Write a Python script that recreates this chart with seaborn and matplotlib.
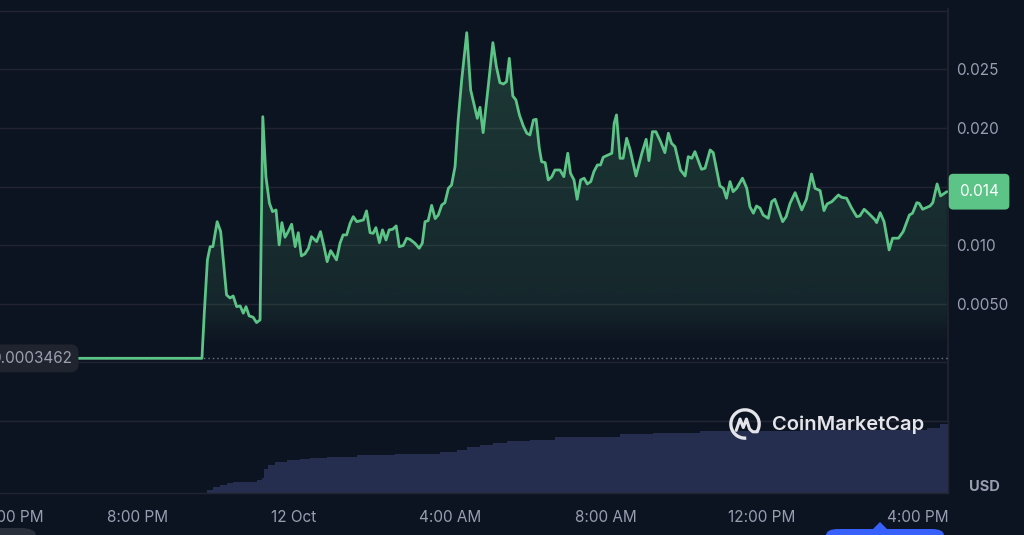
import matplotlib
matplotlib.use("Agg")
import matplotlib.dates as mdates
import matplotlib.pyplot as plt
import matplotlib.transforms as mtransforms
import numpy as np
import pandas as pd
import seaborn as sns
from matplotlib.colors import to_rgb
from matplotlib.patches import Arc, FancyBboxPatch, Polygon

# ---------------------------------------------------------------------------
# Colours
# ---------------------------------------------------------------------------
BG = "#0d1421"
GRID = "#222531"
GREEN = "#5cc486"
TEXT = "#989eb0"
VOLUME = "#262e50"

START = pd.Timestamp("2023-10-11 00:00")

# price line, hours after 11 Oct 00:00 and USD price
price_hours = [
    16.0, 21.64, 21.70, 21.78, 21.85, 21.92, 22.03, 22.12, 22.27, 22.36,
    22.44, 22.53, 22.62, 22.70, 22.77, 22.85, 22.95, 23.04, 23.13, 23.20,
    23.28, 23.37, 23.45, 23.54, 23.62, 23.69, 23.77, 23.85, 23.94, 24.03,
    24.11, 24.19, 24.28, 24.37, 24.45, 24.58, 24.68, 24.77, 24.85, 24.94,
    25.09, 25.18, 25.26, 25.35, 25.44, 25.52, 25.61, 25.78, 25.86, 25.95,
    26.03, 26.10, 26.19, 26.27, 26.36, 26.44, 26.53, 26.62, 26.70, 26.80,
    26.89, 26.97, 27.10, 27.21, 27.29, 27.36, 27.44, 27.53, 27.62, 27.70,
    27.79, 27.87, 27.96, 28.04, 28.13, 28.21, 28.30, 28.43, 28.53, 28.62,
    28.70, 28.77, 28.85, 28.98, 29.10, 29.19, 29.28, 29.37, 29.45, 29.52,
    29.61, 29.69, 29.78, 29.88, 29.97, 30.05, 30.14, 30.21, 30.29, 30.35,
    30.44, 30.52, 30.61, 30.69, 30.82, 30.92, 31.02, 31.09, 31.18, 31.26,
    31.35, 31.44, 31.52, 31.61, 31.69, 31.78, 31.86, 31.93, 32.15, 32.21,
    32.27, 32.36, 32.44, 32.53, 32.62, 32.77, 32.92, 33.03, 33.10, 33.19,
    33.28, 33.40, 33.51, 33.60, 33.68, 33.77, 33.91, 34.03, 34.11, 34.20,
    34.28, 34.45, 34.54, 34.67, 34.75, 34.92, 35.01, 35.09, 35.18, 35.26,
    35.35, 35.50, 35.61, 35.69, 35.78, 35.86, 35.95, 36.03, 36.16, 36.25,
    36.33, 36.53, 36.62, 36.72, 36.85, 37.02, 37.14, 37.27, 37.36, 37.49,
    37.59, 37.67, 37.79, 37.96, 38.04, 38.17, 38.30, 38.43, 38.51, 38.62,
    38.75, 38.90, 38.94, 39.03, 39.13, 39.20, 39.26, 39.35, 39.50, 39.62,
    39.78, 39.86, 39.97, 40.03, 40.12, 40.31, 40.38, 40.49, 40.58, 40.74,
]
price_usd = [
    0.00035, 0.00035, 0.00422, 0.00875, 0.00988, 0.00988, 0.01201, 0.01116, 0.00576, 0.00550,
    0.00567, 0.00476, 0.00482, 0.00420, 0.00476, 0.00397, 0.00386, 0.00340, 0.00363, 0.02097,
    0.01585, 0.01358, 0.01287, 0.01301, 0.01003, 0.01193, 0.01068, 0.01116, 0.01179, 0.00988,
    0.01107, 0.00909, 0.00926, 0.00974, 0.01073, 0.01031, 0.01116, 0.00988, 0.00860, 0.00954,
    0.00875, 0.01017, 0.01088, 0.01088, 0.01188, 0.01244, 0.01201, 0.01216, 0.01293, 0.01107,
    0.01102, 0.01150, 0.01022, 0.01131, 0.01045, 0.01131, 0.01136, 0.01165, 0.00988, 0.00997,
    0.01060, 0.01051, 0.01017, 0.00974, 0.01017, 0.01201, 0.01210, 0.01340, 0.01227, 0.01258,
    0.01344, 0.01363, 0.01486, 0.01514, 0.01671, 0.02069, 0.02410, 0.02814, 0.02325, 0.02197,
    0.02083, 0.02177, 0.01961, 0.02353, 0.02729, 0.02524, 0.02387, 0.02376, 0.02396, 0.02595,
    0.02274, 0.02240, 0.02112, 0.02018, 0.01956, 0.01941, 0.02069, 0.02075, 0.01828, 0.01713,
    0.01705, 0.01557, 0.01585, 0.01642, 0.01642, 0.01585, 0.01785, 0.01614, 0.01557, 0.01392,
    0.01557, 0.01572, 0.01523, 0.01543, 0.01628, 0.01685, 0.01685, 0.01751, 0.01785, 0.02041,
    0.02112, 0.01742, 0.01742, 0.01913, 0.01813, 0.01591, 0.01785, 0.01904, 0.01722, 0.01969,
    0.01969, 0.01884, 0.01790, 0.01956, 0.01870, 0.01841, 0.01642, 0.01591, 0.01756, 0.01742,
    0.01799, 0.01648, 0.01657, 0.01813, 0.01790, 0.01506, 0.01486, 0.01401, 0.01543, 0.01457,
    0.01486, 0.01572, 0.01486, 0.01329, 0.01273, 0.01335, 0.01316, 0.01258, 0.01230, 0.01372,
    0.01392, 0.01201, 0.01244, 0.01358, 0.01449, 0.01301, 0.01392, 0.01608, 0.01486, 0.01466,
    0.01295, 0.01352, 0.01372, 0.01429, 0.01409, 0.01401, 0.01316, 0.01244, 0.01250, 0.01307,
    0.01267, 0.01216, 0.01193, 0.01278, 0.01201, 0.01073, 0.00960, 0.01060, 0.01060, 0.01116,
    0.01258, 0.01273, 0.01363, 0.01358, 0.01307, 0.01335, 0.01363, 0.01523, 0.01421, 0.01457,
]

# volume panel (relative level, steps)
vol_hours = [21.77, 21.92, 22.10, 22.28, 22.44, 23.05, 23.18, 23.23, 23.33, 23.51,
             23.82, 24.15, 24.41, 24.85, 25.62, 26.59, 27.74, 28.18, 28.44, 28.77,
             29.10, 29.46, 30.05, 30.69, 32.36, 33.21, 34.41, 36.97, 40.23, 40.56, 40.77]
vol_level = [3, 6.3, 8, 9.7, 11.3, 13, 14.7, 23.7, 28, 30.7,
             33, 34, 35, 36.3, 38, 39, 40.7, 43, 46.3, 48,
             50.3, 52, 53, 56.3, 59, 60.3, 62, 63.3, 64.7, 68.7, 68.7]

open_price = 0.0003462
last_label = "0.014"

x_start_h, x_end_h = 16.0, 40.77
tick_hours = [16, 20, 24, 28, 32, 36, 40]
tick_labels = ["4:00 PM", "8:00 PM", "12 Oct", "4:00 AM", "8:00 AM", "12:00 PM", "4:00 PM"]
price_ticks = [-0.005, 0.0, 0.005, 0.010, 0.015, 0.020, 0.025, 0.030]
price_tick_labels = ["", "", "0.0050", "0.010", "", "0.020", "0.025", ""]


def to_time(hours):
    return START + pd.to_timedelta(hours, unit="h")


sns.set_theme(style="dark")
plt.rcParams["font.family"] = ["Inter", "DejaVu Sans"]

W, H = 1024, 535
fig = plt.figure(figsize=(W / 100, H / 100), dpi=100, facecolor=BG)

left = -18 / W
width = 966 / W
ax = fig.add_axes([left, (H - 421) / H, width, 412 / H], facecolor="none")
vax = fig.add_axes([left, (H - 493) / H, width, 72 / H], facecolor="none")

df = pd.DataFrame({"time": to_time(price_hours), "price": price_usd})
vol = pd.DataFrame({"time": to_time(vol_hours), "level": vol_level})
x0, x1 = to_time(x_start_h), to_time(x_end_h)

# baseline (open price)
ax.axhline(open_price, color="#8d92a3", lw=1, ls=(0, (1, 2.2)), alpha=0.8, zorder=3)

sns.lineplot(data=df, x="time", y="price", ax=ax, color=GREEN, linewidth=2,
             zorder=5, legend=False)

# gradient fill under the line
ymax_val = 0.03016
grad_vals = np.linspace(0.0015, 0.029, 300)
alpha = np.interp(grad_vals, [0.0015, 0.005, 0.028], [0.0, 0.11, 0.22])
rgba = np.zeros((len(grad_vals), 1, 4))
rgba[..., :3] = to_rgb(GREEN)
rgba[..., 3] = alpha[:, None]
poly = ax.fill_between(df["time"], df["price"], open_price, color="none", lw=0)
im = ax.imshow(rgba, extent=[mdates.date2num(x0), mdates.date2num(x1), 0.0015, 0.029],
               origin="lower", aspect="auto", zorder=2, interpolation="bilinear")
im.set_clip_path(poly.get_paths()[0], transform=ax.transData)

ax.set_xlim(x0, x1)
ax.set_ylim(-0.005, ymax_val)
ax.set_yticks(price_ticks)
ax.set_yticklabels(price_tick_labels)
ax.yaxis.tick_right()
ax.grid(axis="y", color=GRID, lw=1)
ax.grid(axis="x", visible=False)
ax.tick_params(axis="y", length=0, pad=6, labelsize=11, labelcolor=TEXT)
ax.tick_params(axis="x", length=0, labelbottom=False)
ax.set_xlabel("")
ax.set_ylabel("")
for name, sp in ax.spines.items():
    sp.set_visible(name == "right")
    sp.set_color(GRID)

# volume panel
vax.fill_between(vol["time"], vol["level"], step="post", color=VOLUME, lw=0)
vax.set_xlim(x0, x1)
vax.set_ylim(0, 72)
vax.set_yticks([])
vax.set_xticks(to_time(tick_hours))
vax.set_xticklabels(tick_labels)
vax.get_xticklabels()[0].set_ha("left")
vax.tick_params(axis="x", length=0, pad=12, labelsize=11, labelcolor=TEXT)
for name, sp in vax.spines.items():
    sp.set_visible(name in ("right", "bottom", "top"))
    sp.set_color(GRID)
    sp.set_linewidth(1)

# labels on the price axis
blend = mtransforms.blended_transform_factory(ax.transAxes, ax.transData)
ax.annotate(last_label, xy=(1, df["price"].iloc[-1]), xycoords=blend,
            xytext=(8, 0), textcoords="offset points", ha="left", va="center",
            fontsize=11, color="white", zorder=10, annotation_clip=False,
            bbox=dict(boxstyle="round,pad=0.68,rounding_size=0.3", fc=GREEN, ec="none"))
ax.annotate("0.0003462", xy=(0, open_price), xycoords=blend,
            xytext=(6.5, 0), textcoords="offset points", ha="left", va="center",
            fontsize=11, color="#9ba0b0", zorder=10,
            bbox=dict(boxstyle="round,pad=0.42,rounding_size=0.5", fc="#20242f", ec="none"))

fig.text(984 / W, 1 - 487 / H, "USD", ha="center", va="center", fontsize=10.5,
         fontweight="bold", color=TEXT)

# CoinMarketCap watermark
fig.text(772 / W, 1 - 425 / H, "CoinMarketCap", ha="left", va="center",
         fontsize=14.5, fontweight="semibold", color="#e3e5ea")
lax = fig.add_axes([728 / W, 1 - 441 / H, 34 / W, 34 / H], facecolor="none")
lax.set_xlim(-1.2, 1.2)
lax.set_ylim(-1.2, 1.2)
lax.set_aspect("equal")
lax.axis("off")
lax.add_patch(Arc((0, 0), 2, 2, theta1=-35, theta2=275, color="#e3e5ea", lw=2.4))
lax.plot([-0.62, -0.35, -0.12, 0.1, 0.32, 0.55, 0.85],
         [-0.45, 0.35, -0.25, 0.35, -0.35, -0.55, -0.55], color="#e3e5ea", lw=2.2,
         solid_joinstyle="round", solid_capstyle="round")

# partial controls cut by the bottom edge
fig.patches.append(FancyBboxPatch((826 / W, -30 / H), 118 / W, 36 / H,
                                  boxstyle="round,pad=0,rounding_size=0.012",
                                  transform=fig.transFigure, fc="#3861fb", ec="none"))
fig.patches.append(Polygon([(873 / W, 6 / H), (880 / W, 13 / H), (887 / W, 6 / H)],
                           closed=True, transform=fig.transFigure, fc="#3861fb", ec="none"))
fig.patches.append(FancyBboxPatch((-20 / W, -30 / H), 56 / W, 37 / H,
                                  boxstyle="round,pad=0,rounding_size=0.015",
                                  transform=fig.transFigure, fc="#2a2f3c", ec="none"))

fig.savefig("out.png", dpi=100, facecolor=BG)
